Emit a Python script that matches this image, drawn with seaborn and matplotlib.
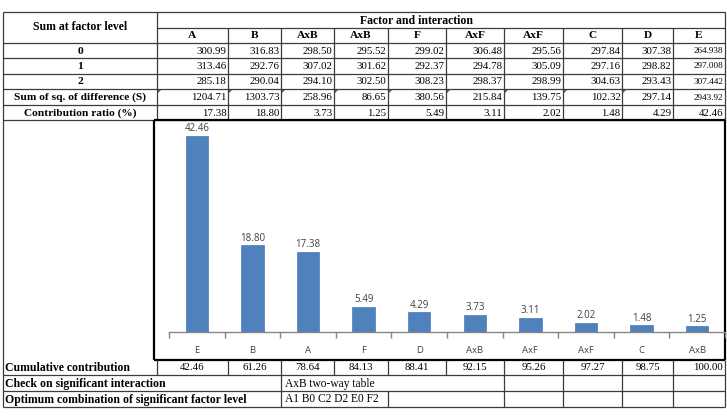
import numpy as np
import matplotlib
matplotlib.use('Agg')
import matplotlib.pyplot as plt
import seaborn as sns

# table data
factors = ['A', 'B', 'AxB', 'AxB', 'F', 'AxF', 'AxF', 'C', 'D', 'E']
level_0 = [300.99, 316.83, 298.50, 295.52, 299.02, 306.48, 295.56, 297.84, 307.38, 264.938]
level_1 = [313.46, 292.76, 307.02, 301.62, 292.37, 294.78, 305.09, 297.16, 298.82, 297.008]
level_2 = [285.18, 290.04, 294.10, 302.50, 308.23, 298.37, 298.99, 304.63, 293.43, 307.442]
sum_sq = [1204.71, 1303.73, 258.96, 86.65, 380.56, 215.84, 139.75, 102.32, 297.14, 2943.92]
contribution = [17.38, 18.80, 3.73, 1.25, 5.49, 3.11, 2.02, 1.48, 4.29, 42.46]

# chart data (sorted by contribution)
chart_labels = ['E', 'B', 'A', 'F', 'D', 'AxB', 'AxF', 'AxF', 'C', 'AxB']
chart_values = [42.46, 18.80, 17.38, 5.49, 4.29, 3.73, 3.11, 2.02, 1.48, 1.25]
cumulative = [42.46, 61.26, 78.64, 84.13, 88.41, 92.15, 95.26, 97.27, 98.75, 100.00]

interaction_note = 'AxB two-way table'
optimum_note = 'A1 B0 C2 D2 E0 F2'

W, H = 727, 416
fig = plt.figure(figsize=(W / 100, H / 100), dpi=100)
fig.patch.set_facecolor('white')

# overlay axes in pixel coords for the table
tab = fig.add_axes([0, 0, 1, 1])
tab.set_xlim(0, W)
tab.set_ylim(H, 0)
tab.axis('off')

serif = 'Liberation Serif'
lc = '#3c3c3c'
lw = 0.9
fs_bold = 8.5
fs_num = 7.8

x_left = 3
col_x = [157, 228, 281, 334, 388, 446, 504, 563, 622, 673, 725]
row_y = [12, 28, 43, 58, 74, 89, 105, 120]
bottom_y = [360, 375, 391, 407]


def hline(y, x0, x1, c=lc, w=lw):
    tab.plot([x0, x1], [y, y], color=c, lw=w, solid_capstyle='butt')


def vline(x, y0, y1, c=lc, w=lw):
    tab.plot([x, x], [y0, y1], color=c, lw=w, solid_capstyle='butt')


# top header block
hline(row_y[0], x_left, col_x[-1])
hline(row_y[1], col_x[0], col_x[-1])
for y in row_y[2:]:
    hline(y, x_left, col_x[-1])
vline(x_left, row_y[0], bottom_y[-1])
vline(col_x[-1], row_y[0], row_y[-1])
vline(col_x[0], row_y[0], row_y[-1])
for x in col_x[1:-1]:
    vline(x, row_y[1], row_y[-1])

tab.text(417, (row_y[0] + row_y[1]) / 2 + 0.5, 'Factor and interaction',
         ha='center', va='center', family=serif, weight='bold', fontsize=fs_bold)
tab.text((x_left + col_x[0]) / 2, (row_y[0] + row_y[2]) / 2, 'Sum at factor level',
         ha='center', va='center', family=serif, weight='bold', fontsize=fs_bold)
for i, f in enumerate(factors):
    tab.text((col_x[i] + col_x[i + 1]) / 2, (row_y[1] + row_y[2]) / 2 + 0.5, f,
             ha='center', va='center', family=serif, weight='bold', fontsize=8.2)

row_names = ['0', '1', '2', 'Sum of sq. of difference (S)', 'Contribution ratio (%)']
row_vals = [level_0, level_1, level_2, sum_sq, contribution]
for r, (name, vals) in enumerate(zip(row_names, row_vals)):
    yc = (row_y[r + 2] + row_y[r + 3]) / 2 + 0.5
    tab.text((x_left + col_x[0]) / 2, yc, name, ha='center', va='center',
             family=serif, weight='bold', fontsize=8.2)
    for i, v in enumerate(vals):
        small = (i == len(vals) - 1) and r < 4
        if small and r < 3:
            s = f'{v:.3f}'
        else:
            s = f'{v:.2f}'
        tab.text(col_x[i + 1] - 1.5, yc, s, ha='right', va='center', family=serif,
                 fontsize=6.6 if small else fs_num)

# green error-indicator triangles on the sum-of-squares row
for i in range(9):
    x0 = col_x[i] + 0.8
    y0 = row_y[5] + 0.8
    tab.fill([x0, x0 + 3.5, x0], [y0, y0, y0 + 3.5], color='#2e8b2e', lw=0)

# chart frame
chart_l, chart_t, chart_b = 154, 120, 360
hline(chart_t, chart_l, col_x[-1], c='black', w=1.6)
hline(chart_b, chart_l, col_x[-1], c='black', w=1.6)
vline(chart_l, chart_t, chart_b, c='black', w=1.6)
vline(col_x[-1], chart_t, chart_b, c='black', w=1.6)

# bottom rows
for y in bottom_y[1:]:
    hline(y, x_left, col_x[-1])
vline(col_x[-1], bottom_y[0], bottom_y[-1])
for x in col_x[:-1]:
    vline(x, bottom_y[0], bottom_y[1])
for x in [col_x[2], col_x[6], col_x[7], col_x[8], col_x[9]]:
    vline(x, bottom_y[1], bottom_y[3])
vline(col_x[4], bottom_y[2], bottom_y[3])

yc = (bottom_y[0] + bottom_y[1]) / 2 + 0.5
tab.text(x_left + 2, yc, 'Cumulative contribution', ha='left', va='center',
         family=serif, weight='bold', fontsize=fs_bold)
for i, v in enumerate(cumulative):
    if i == len(cumulative) - 1:
        tab.text(col_x[i + 1] - 2, yc, f'{v:.2f}', ha='right', va='center', family=serif, fontsize=fs_num)
    else:
        tab.text((col_x[i] + col_x[i + 1]) / 2, yc, f'{v:.2f}', ha='center', va='center',
                 family=serif, fontsize=fs_num)
yc = (bottom_y[1] + bottom_y[2]) / 2 + 0.5
tab.text(x_left + 2, yc, 'Check on significant interaction', ha='left', va='center',
         family=serif, weight='bold', fontsize=fs_bold)
tab.text(col_x[2] + 4, yc, interaction_note, ha='left', va='center', family=serif, fontsize=8.3)
yc = (bottom_y[2] + bottom_y[3]) / 2 + 0.5
tab.text(x_left + 2, yc, 'Optimum combination of significant factor level', ha='left', va='center',
         family=serif, weight='bold', fontsize=fs_bold)
tab.text(col_x[2] + 4, yc, optimum_note, ha='left', va='center', family=serif, fontsize=8.3)

# bar chart
ax_l, ax_r, ax_top, ax_bot = 169, 725, 124, 332
ax = fig.add_axes([ax_l / W, 1 - ax_bot / H, (ax_r - ax_l) / W, (ax_bot - ax_top) / H])
ax.patch.set_alpha(0)
pos = np.arange(len(chart_values))
sns.barplot(x=pos, y=chart_values, color='#4f81bd', width=0.4, saturation=1,
            edgecolor='#4a7ab3', linewidth=0.5, ax=ax)
ax.set_xlim(-0.5, len(chart_values) - 0.5)
ax.set_ylim(0, 45)
for p, v in zip(pos, chart_values):
    ax.annotate(f'{v:.2f}', (p, v), xytext=(0, 1), textcoords='offset points',
                ha='center', va='bottom', fontsize=7, color='#404040', family='Open Sans')
for s in ['top', 'right', 'left']:
    ax.spines[s].set_visible(False)
ax.spines['bottom'].set_color('#868686')
ax.spines['bottom'].set_linewidth(1.0)
ax.set_yticks([])
ax.set_xticks(np.arange(-0.5, len(chart_values)), labels=[])
ax.tick_params(axis='x', which='major', length=4, width=1.0, color='#868686', direction='out')
ax.set_xticks(pos, labels=chart_labels, minor=True)
ax.tick_params(axis='x', which='minor', length=0, pad=10, labelsize=6.8, labelcolor='#404040')
for t in ax.get_xticklabels(minor=True):
    t.set_family('Open Sans')
ax.set_xlabel('')
ax.set_ylabel('')

fig.savefig('out.png', dpi=100)
